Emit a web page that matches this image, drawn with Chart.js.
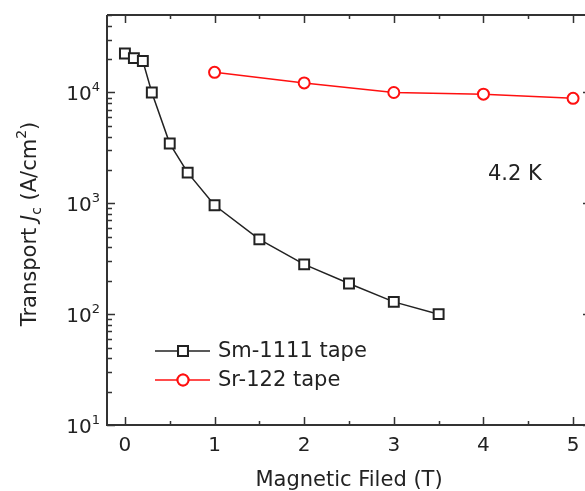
<!DOCTYPE html>
<html>
<head>
<meta charset="utf-8">
<script src="https://cdn.jsdelivr.net/npm/chart.js@4.4.1/dist/chart.umd.min.js"></script>
<style>
  html, body { margin: 0; padding: 0; background: #fff; overflow: hidden; }
  #wrap { position: relative; width: 600px; height: 491px; }
</style>
</head>
<body>
<div id="wrap"><canvas id="jcChart"></canvas></div>
<script>
// Transport Jc vs magnetic field at 4.2 K
const smField = [0, 0.1, 0.2, 0.3, 0.5, 0.7, 1.0, 1.5, 2.0, 2.5, 3.0, 3.5];
const smJc    = [22500, 20400, 19200, 10000, 3460, 1890, 960, 473, 281, 189, 129, 100];
const srField = [1, 2, 3, 4, 5];
const srJc    = [15200, 12200, 10000, 9650, 8850];

const xTicks = [0, 1, 2, 3, 4, 5];
const xMinorTicks = [0.5, 1.5, 2.5, 3.5, 4.5];
const yDecades = [10, 100, 1000, 10000];
const yDecadeLabels = ['1', '2', '3', '4'];

const FONT = "'DejaVu Sans', Verdana, sans-serif";
const AXIS_COLOR = '#333';

const toPoints = (xs, ys) => xs.map((x, i) => ({ x: x, y: ys[i] }));

// draws axes frame, inward ticks, labels, legend and annotation
const framePlugin = {
    id: 'frame',
    afterDraw(chart) {
        const ctx = chart.ctx;
        const a = chart.chartArea;
        const xs = chart.scales.x;
        const ys = chart.scales.y;
        ctx.save();
        ctx.strokeStyle = AXIS_COLOR;
        ctx.lineWidth = 2;
        ctx.beginPath();
        ctx.moveTo(a.left, a.top); ctx.lineTo(a.left, a.bottom);
        ctx.lineTo(a.right, a.bottom); ctx.lineTo(a.right, a.top);
        ctx.lineTo(a.left, a.top);
        ctx.stroke();

        ctx.lineWidth = 1.5;
        ctx.beginPath();
        xTicks.forEach(v => {
            const px = Math.round(xs.getPixelForValue(v)) + 0.5;
            ctx.moveTo(px, a.bottom); ctx.lineTo(px, a.bottom - 8);
            ctx.moveTo(px, a.top); ctx.lineTo(px, a.top + 8);
        });
        xMinorTicks.forEach(v => {
            const px = Math.round(xs.getPixelForValue(v)) + 0.5;
            ctx.moveTo(px, a.bottom); ctx.lineTo(px, a.bottom - 4);
            ctx.moveTo(px, a.top); ctx.lineTo(px, a.top + 4);
        });
        yDecades.forEach(d => {
            const py = Math.round(ys.getPixelForValue(d)) + 0.5;
            ctx.moveTo(a.left, py); ctx.lineTo(a.left + 8, py);
            ctx.moveTo(a.right, py); ctx.lineTo(a.right - 8, py);
            for (let k = 2; k <= 9; k++) {
                const v = d * k;
                if (v > ys.max) break;
                const pm = Math.round(ys.getPixelForValue(v)) + 0.5;
                ctx.moveTo(a.left, pm); ctx.lineTo(a.left + 5, pm);
                ctx.moveTo(a.right, pm); ctx.lineTo(a.right - 5, pm);
            }
        });
        ctx.stroke();

        // x tick labels
        ctx.fillStyle = '#222';
        ctx.font = '20px ' + FONT;
        ctx.textAlign = 'center';
        ctx.textBaseline = 'alphabetic';
        xTicks.forEach(v => {
            ctx.fillText(String(v), xs.getPixelForValue(v), a.bottom + 26);
        });

        // y tick labels 10^n
        yDecades.forEach((d, i) => {
            const py = ys.getPixelForValue(d);
            ctx.font = '13px ' + FONT;
            ctx.textAlign = 'right';
            const supW = ctx.measureText(yDecadeLabels[i]).width;
            ctx.fillText(yDecadeLabels[i], a.left - 7, py - 1);
            ctx.font = '20px ' + FONT;
            ctx.fillText('10', a.left - 7 - supW, py + 8);
        });

        // x title
        ctx.font = '21px ' + FONT;
        ctx.textAlign = 'center';
        ctx.fillText('Magnetic Filed (T)', (a.left + a.right) / 2, 486);

        // y title with italic J, subscript c, superscript 2
        const parts = [
            { t: 'Transport ', f: '21px ' + FONT, dy: 0 },
            { t: 'J', f: 'italic 21px ' + FONT, dy: 0 },
            { t: 'c', f: '14px ' + FONT, dy: 5 },
            { t: ' (A/cm', f: '21px ' + FONT, dy: 0 },
            { t: '2', f: '14px ' + FONT, dy: -10 },
            { t: ')', f: '21px ' + FONT, dy: 0 }
        ];
        let total = 0;
        parts.forEach(p => { ctx.font = p.f; p.w = ctx.measureText(p.t).width; total += p.w; });
        ctx.save();
        ctx.translate(36, 224);
        ctx.rotate(-Math.PI / 2);
        ctx.textAlign = 'left';
        let cx = -total / 2;
        parts.forEach(p => {
            ctx.font = p.f;
            ctx.fillText(p.t, cx, p.dy);
            cx += p.w;
        });
        ctx.restore();

        // annotation
        ctx.font = '21px ' + FONT;
        ctx.textAlign = 'left';
        ctx.fillText('4.2 K', 488, 180);

        // legend
        const legend = [
            { label: 'Sm-1111 tape', color: '#222', style: 'rect', r: 7, y: 351 },
            { label: 'Sr-122 tape', color: '#ff1010', style: 'circle', r: 5.5, y: 380 }
        ];
        legend.forEach(l => {
            ctx.strokeStyle = l.color;
            ctx.lineWidth = 1.5;
            ctx.beginPath();
            ctx.moveTo(155, l.y); ctx.lineTo(210, l.y);
            ctx.stroke();
            ctx.fillStyle = '#fff';
            ctx.lineWidth = 2;
            Chart.helpers.drawPoint(ctx, { pointStyle: l.style, radius: l.r, borderWidth: 2 }, 183, l.y);
            ctx.fill();
            ctx.stroke();
            ctx.fillStyle = '#222';
            ctx.font = '21px ' + FONT;
            ctx.textBaseline = 'middle';
            ctx.fillText(l.label, 218, l.y + 1);
        });
        ctx.restore();
    }
};

new Chart(document.getElementById('jcChart'), {
    type: 'scatter',
    data: {
        datasets: [{
            label: 'Sm-1111 tape',
            data: toPoints(smField, smJc),
            showLine: true,
            borderColor: '#222',
            borderWidth: 1.5,
            pointStyle: 'rect',
            pointRadius: 7,
            pointBorderWidth: 2,
            pointBackgroundColor: '#fff',
            pointBorderColor: '#222'
        }, {
            label: 'Sr-122 tape',
            data: toPoints(srField, srJc),
            showLine: true,
            borderColor: '#ff1010',
            borderWidth: 1.5,
            pointStyle: 'circle',
            pointRadius: 5.5,
            pointBorderWidth: 2,
            pointBackgroundColor: '#fff',
            pointBorderColor: '#ff1010'
        }]
    },
    options: {
        responsive: true,
        maintainAspectRatio: false,
        animation: false,
        layout: { padding: { left: 107, top: 15, right: 7, bottom: 66 } },
        plugins: { legend: { display: false }, tooltip: { enabled: false } },
        scales: {
            x: { type: 'linear', min: -0.2, max: 5.2, display: false },
            y: { type: 'logarithmic', min: 10, max: 50000, display: false }
        }
    },
    plugins: [framePlugin]
});
</script>
</body>
</html>
